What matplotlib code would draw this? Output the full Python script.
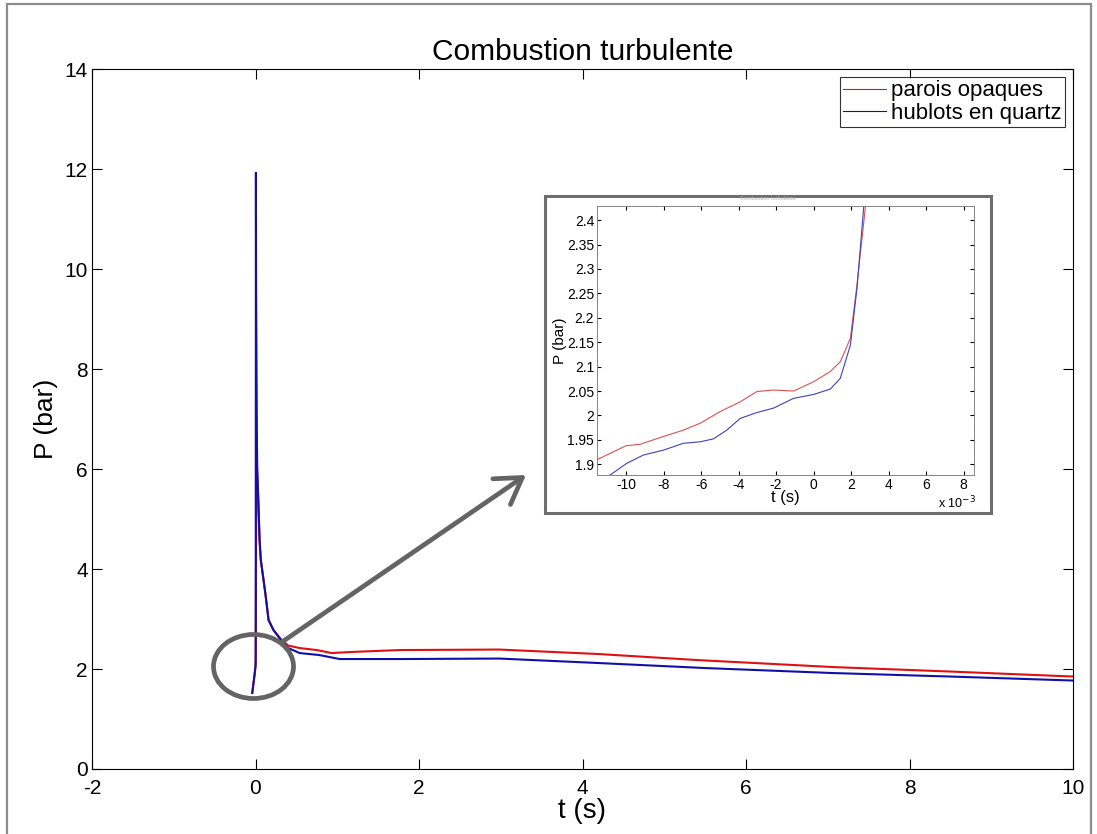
import numpy as np
import matplotlib.pyplot as plt
from matplotlib.patches import Ellipse, Rectangle, FancyArrowPatch

plt.rcParams['font.family'] = ['Liberation Sans', 'DejaVu Sans']
plt.rcParams['axes.unicode_minus'] = False

# Courbes principales (t en s, P en bar)
t_red = [-0.04, -0.011, 0.0, 0.002, 0.003, 0.008, 0.018, 0.02, 0.033, 0.05, 0.065, 0.12,
         0.16, 0.22, 0.31, 0.40, 0.54, 0.75, 0.93, 1.15, 1.76, 2.98, 4.2, 5.4, 7.06,
         8.5, 10.0]
p_red = [1.52, 1.91, 2.07, 2.15, 2.43, 5.0, 6.42, 6.02, 5.44, 4.58, 4.18, 3.52,
         2.98, 2.78, 2.60, 2.47, 2.42, 2.38, 2.32, 2.34, 2.38, 2.39, 2.30, 2.18, 2.04,
         1.95, 1.85]

t_blue = [-0.04, -0.011, 0.0, 0.002, 0.0027, 0.005, 0.007, 0.012, 0.018, 0.02, 0.033,
          0.05, 0.065, 0.12, 0.16, 0.22, 0.31, 0.40, 0.54, 0.78, 1.03, 1.76, 2.98,
          4.2, 5.5, 7.06, 8.5, 10.0]
p_blue = [1.52, 1.88, 2.045, 2.14, 2.43, 11.93, 9.74, 8.2, 6.42, 6.02, 5.44,
          4.58, 4.18, 3.52, 2.98, 2.78, 2.58, 2.42, 2.32, 2.28, 2.20, 2.20, 2.21,
          2.12, 2.02, 1.92, 1.85, 1.77]

# Zoom autour du déclenchement (t en ms)
tz_red = [-11.57, -10.0, -9.25, -8.0, -6.94, -6.05, -4.98, -3.91, -3.02, -2.14, -1.07,
          0.0, 0.89, 1.42, 1.96, 2.31, 2.76]
pz_red = [1.909, 1.938, 1.941, 1.957, 1.970, 1.984, 2.008, 2.028, 2.049, 2.052, 2.050,
          2.069, 2.090, 2.110, 2.158, 2.267, 2.427]
tz_blue = [-10.85, -9.96, -9.07, -8.0, -6.94, -6.05, -5.34, -4.63, -3.91, -3.02, -2.14,
           -1.07, 0.0, 0.89, 1.42, 1.96, 2.31, 2.67]
pz_blue = [1.878, 1.902, 1.919, 1.929, 1.943, 1.946, 1.952, 1.970, 1.994, 2.006, 2.015,
           2.035, 2.043, 2.054, 2.076, 2.144, 2.260, 2.427]

W, H = 1097, 834
fig = plt.figure(figsize=(W / 100, H / 100), dpi=100)

def fx(x):
    return x / W

def fy(y):
    return 1 - y / H

ax = fig.add_axes([fx(92), fy(769), fx(1073) - fx(92), fy(69.3) - fy(769)])
ax.plot(t_red, p_red, color="#e01010", lw=1.5, label="parois opaques")
ax.plot(t_blue, p_blue, color="#1010a8", lw=1.5, label="hublots en quartz")
ax.set_xlim(-2, 10)
ax.set_ylim(0, 14)
ax.set_xticks(range(-2, 11, 2))
ax.set_yticks(range(0, 15, 2))
ax.tick_params(direction="in", top=True, right=True, length=7, labelsize=15, pad=3)
ax.tick_params(axis="x", pad=7)
ax.set_title("Combustion turbulente", fontsize=21.5, pad=7)
ax.set_xlabel("t (s)", fontsize=20, labelpad=0)
ax.set_ylabel("P (bar)", fontsize=19, labelpad=5)
leg = ax.legend(loc="upper right", fontsize=16, handlelength=1.9, handletextpad=0.25,
                borderpad=0.15, labelspacing=0.05, fancybox=False, borderaxespad=0.35)
leg.get_frame().set_edgecolor("black")
leg.get_frame().set_linewidth(0.8)
for line in leg.get_lines():
    line.set_linewidth(0.8)

# bordure extérieure
fig.add_artist(Rectangle((fx(7), fy(845)), fx(1091) - fx(7), fy(4) - fy(845),
                         fill=False, edgecolor="#8c8c8c", lw=1.6))

# ellipse et flèche
fig.add_artist(Ellipse((fx(253.5), fy(666.5)), fx(80), 64 / H,
                       fill=False, edgecolor="#646464", lw=3.4, zorder=2))
fig.add_artist(FancyArrowPatch((fx(282), fy(642)), (fx(526), fy(475)),
                               arrowstyle="->,head_length=0.45,head_width=0.28",
                               mutation_scale=40, shrinkA=0, shrinkB=0,
                               color="#646464", lw=3.4, zorder=2))

# cadre du zoom
fig.add_artist(Rectangle((fx(545), fy(513)), fx(991) - fx(545), fy(196) - fy(513),
                         facecolor="white", edgecolor="#6e6e6e", lw=2.2, zorder=3))
fig.text(fx(768), fy(199), "Combustion turbulente", fontsize=4, color="#b0b0b0",
         ha="center", va="center", zorder=5)

axi = fig.add_axes([fx(597), fy(475), fx(974) - fx(597), fy(206) - fy(475)], zorder=4)
axi.plot(tz_red, pz_red, color="#e05050", lw=0.8)
axi.plot(tz_blue, pz_blue, color="#4040c0", lw=0.8)
axi.set_xlim(-11.55, 8.55)
axi.set_ylim(1.878, 2.429)
axi.set_xticks(range(-10, 9, 2))
axi.set_yticks(np.arange(1.9, 2.41, 0.05))
axi.set_yticklabels(["1.9", "1.95", "2", "2.05", "2.1", "2.15", "2.2", "2.25", "2.3",
                     "2.35", "2.4"])
axi.tick_params(direction="in", top=True, right=True, length=3, labelsize=10, pad=2)
for s in axi.spines.values():
    s.set_edgecolor("#707070")
    s.set_linewidth(0.6)
axi.set_xlabel("t (s)", fontsize=12, labelpad=-1)
axi.set_ylabel("P (bar)", fontsize=11, labelpad=0)
fig.text(fx(957), fy(503), "x 10$^{-3}$", fontsize=9, ha="center", va="center", zorder=5)

plt.savefig("out.png", dpi=100)
